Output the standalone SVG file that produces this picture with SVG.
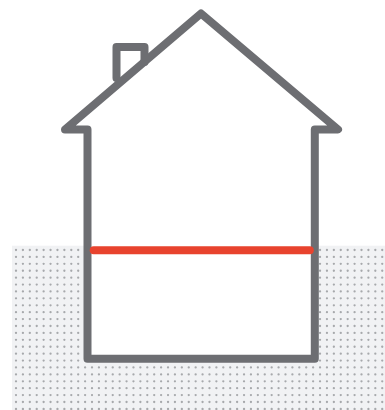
<svg xmlns="http://www.w3.org/2000/svg" width="385" height="410" viewBox="0 0 385 410">
<style>
.line{fill:none;stroke:#6d6e72;stroke-width:8;stroke-linecap:round;stroke-linejoin:round}
.dots{fill:none;stroke:#a7a9ac;stroke-width:2.300;stroke-linecap:round;stroke-dasharray:0 6.910}
</style>
<rect width="385" height="410" fill="#fff"/>
<g id="ground">
<rect x="12" y="245.700" width="373" height="164.300" fill="#f1f2f4"/>
<path class="dots" d="M16 250H385M16 256.910H385M16 263.820H385M16 270.730H385M16 277.640H385M16 284.550H385M16 291.460H385M16 298.370H385M16 305.280H385M16 312.190H385M16 319.100H385M16 326.010H385M16 332.920H385M16 339.830H385M16 346.740H385M16 353.650H385M16 360.560H385M16 367.470H385M16 374.380H385M16 381.290H385M16 388.200H385M16 395.110H385M16 402.020H385M16 408.930H385"/>
</g>
<g id="house">
<path d="M87.500 129.500H65L201 13.500L338 129.500H314.800V358.700H87.500Z" fill="#fff"/>
<path class="line" d="M116.500 78V47H144.500V62"/>
<path class="line" d="M87.500 129.500H65L201 13.500L338 129.500H314.800V358.700H87.500Z"/>
</g>
<g id="floor">
<path d="M93.700 250.200H309.800" fill="none" stroke="#e8432e" stroke-width="8" stroke-linecap="round"/>
</g>
</svg>
